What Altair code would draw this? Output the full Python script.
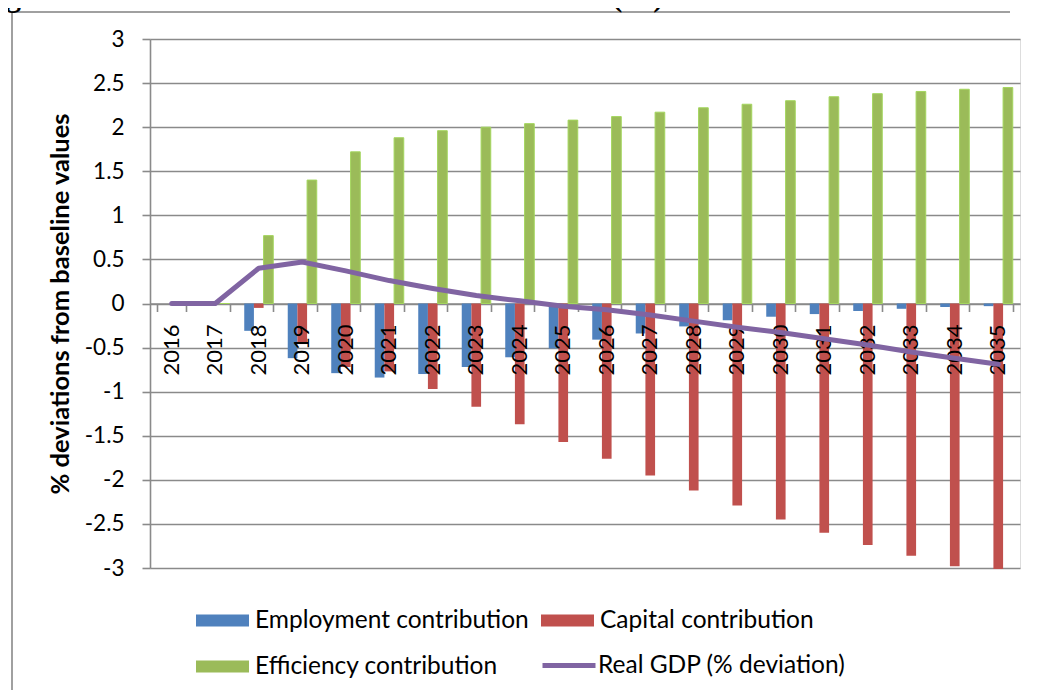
import altair as alt
import pandas as pd

years = [str(y) for y in range(2016, 2036)]
employment = [0, 0, -0.31, -0.62, -0.79, -0.84, -0.80, -0.72, -0.61, -0.51,
              -0.41, -0.34, -0.26, -0.19, -0.15, -0.12, -0.085, -0.06, -0.04, -0.03]
capital = [0, 0, -0.05, -0.46, -0.72, -0.77, -0.97, -1.17, -1.37, -1.57,
           -1.76, -1.95, -2.12, -2.29, -2.45, -2.60, -2.74, -2.86, -2.98, -3.01]
efficiency = [0, 0, 0.77, 1.40, 1.72, 1.88, 1.96, 2.00, 2.04, 2.08,
              2.12, 2.17, 2.22, 2.26, 2.30, 2.345, 2.38, 2.405, 2.43, 2.45]
gdp = [0, 0, 0.40, 0.47, 0.37, 0.26, 0.17, 0.09, 0.03, -0.03,
       -0.07, -0.13, -0.20, -0.27, -0.33, -0.40, -0.47, -0.55, -0.62, -0.69]

bar_names = ["Employment contribution", "Capital contribution", "Efficiency contribution"]
# legend fills column-first, so list the entries in that order
legend_order = ["Employment contribution", "Efficiency contribution", "Capital contribution"]
legend_colors = ["#4F81BD", "#9BBB59", "#C0504D"]
line_name = "Real GDP (% deviation)"
line_color = "#8064A2"
y_ticks = [-3, -2.5, -2, -1.5, -1, -0.5, 0, 0.5, 1, 1.5, 2, 2.5, 3]
title_text = "Figure 6: Contributions to the overall deviation (%) from baseline in real GDP"
y_title = "% deviations from baseline values"

rows = []
for name, vals in zip(bar_names, [employment, capital, efficiency]):
    for yr, v in zip(years, vals):
        rows.append({"year": yr, "series": name, "value": v})
bars_df = pd.DataFrame(rows)
line_df = pd.DataFrame({"year": years, "series": line_name, "value": gdp})
years_df = pd.DataFrame({"year": years})
one_row = pd.DataFrame({"k": [0]})

FONT = "Lato"
GRID = "#8a8a8a"
FRAME = "#a0a0a0"

x_scale = alt.Scale(domain=years, paddingInner=0.333, paddingOuter=0.1665)
y_scale = alt.Scale(domain=[-3, 3], nice=False, zero=False)

RECT = "M-1,-0.23H1V0.23H-1Z"

bar_legend = alt.Legend(
    title=None, orient="none", legendX=46, legendY=569, columns=2,
    symbolType=RECT, symbolSize=2809, clipHeight=25, rowPadding=20,
    columnPadding=12, labelFontSize=24.5, labelFont=FONT, labelColor="#000000",
    labelOffset=6, labelLimit=500, symbolStrokeWidth=0, symbolOpacity=1, padding=0,
)
line_legend = alt.Legend(
    title=None, orient="none", legendX=390, legendY=614,
    symbolType="stroke", symbolSize=2809, clipHeight=25, symbolStrokeWidth=5,
    labelFontSize=24.5, labelFont=FONT, labelColor="#000000", labelLimit=500,
    labelOffset=0, symbolOpacity=1, padding=0,
)

frame_left = alt.Chart(one_row).mark_rule(color=FRAME, strokeWidth=2).encode(
    x=alt.value(-138), y=alt.value(-27), y2=alt.value(653))
frame_top = alt.Chart(one_row).mark_rule(color=FRAME, strokeWidth=2).encode(
    x=alt.value(-138), x2=alt.value(860), y=alt.value(-27))

title = alt.Chart(one_row).mark_text(
    font="Liberation Serif", fontWeight="bold", fontSize=31, align="left",
    baseline="alphabetic", color="#000000", limit=1030, ellipsis=""
).encode(x=alt.value(-172), y=alt.value(-33), text=alt.value(title_text))

bars = alt.Chart(bars_df).mark_bar(strokeWidth=1).encode(
    x=alt.X("year:N", scale=x_scale, sort=years,
            axis=alt.Axis(title=None, labels=False, offset=-264.5, tickBand="extent",
                          tickSize=8, tickColor=GRID, tickWidth=1.6, domainColor=GRID,
                          domainWidth=1.6, grid=False)),
    xOffset=alt.XOffset("series:N", sort=bar_names),
    y=alt.Y("value:Q", scale=y_scale,
            axis=alt.Axis(title=y_title, values=y_ticks, labelExpr="datum.value + ''",
                          labelFont=FONT, labelFontSize=22.5, labelColor="#000000",
                          labelPadding=18, tickSize=8, tickColor=GRID, tickWidth=1.6,
                          domainColor=GRID, domainWidth=1.6, gridColor=GRID,
                          gridWidth=1.6, titleFont=FONT, titleFontSize=25.5,
                          titleFontWeight="bold", titleColor="#000000", titleX=-90,
                          titleY=264.5, titleAngle=270, titleAlign="center",
                          titleBaseline="middle")),
    fill=alt.Fill("series:N", scale=alt.Scale(domain=legend_order, range=legend_colors),
                  legend=bar_legend),
    stroke=alt.condition("datum.series === 'Efficiency contribution'",
                         alt.value("#a4d65e"), alt.value("rgba(0,0,0,0)")),
)

labels = alt.Chart(years_df).mark_text(
    angle=270, align="right", baseline="middle", font=FONT, fontSize=22,
    color="#000000", dx=-21
).encode(x=alt.X("year:N", scale=x_scale, sort=years), y=alt.datum(0), text="year:N")

line = alt.Chart(line_df).mark_line(strokeWidth=5, strokeCap="round", strokeJoin="round").encode(
    x=alt.X("year:N", scale=x_scale, sort=years),
    y=alt.Y("value:Q", scale=y_scale),
    stroke=alt.Stroke("series:N", scale=alt.Scale(domain=[line_name], range=[line_color]),
                      legend=line_legend),
)

chart = alt.layer(frame_left, frame_top, title, bars, labels, line).properties(
    width=870, height=529,
    padding={"left": 142, "top": 31, "right": 12, "bottom": 122},
    autosize=alt.AutoSizeParams(type="none"),
).configure_view(stroke=None).configure(font=FONT, background="white")

chart.save("out.html", embed_options={"renderer": "svg", "actions": False})
